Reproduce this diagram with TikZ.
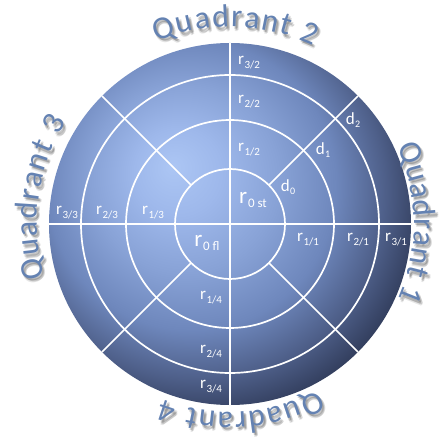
\documentclass[tikz,border=0pt]{standalone}
\usepackage{fontspec}
\setmainfont{Carlito}
\usetikzlibrary{decorations.text}
\definecolor{qcol}{RGB}{100,130,178}
\definecolor{shcol}{RGB}{45,45,45}
\definecolor{sc0}{RGB}{172,198,244}
\definecolor{sc1}{RGB}{158,184,235}
\definecolor{sc2}{RGB}{136,162,214}
\definecolor{sc3}{RGB}{110,135,188}
\definecolor{sc4}{RGB}{78,95,137}
\definecolor{sc5}{RGB}{42,52,80}
\definecolor{sc6}{RGB}{20,25,40}
\pgfdeclareradialshading{sphere}{\pgfpoint{-8bp}{8bp}}{%
 color(0bp)=(sc0); color(6bp)=(sc1); color(13bp)=(sc2); color(20bp)=(sc3); color(26bp)=(sc4); color(32bp)=(sc5); color(40bp)=(sc6); color(60bp)=(sc6)}
\newcommand\qfont{\fontsize{32}{32}\selectfont}
\newcommand\rsub[1]{r\kern0.6pt\raisebox{-3.8pt}{\fontsize{11}{11}\selectfont #1}}
\newcommand\rbig[1]{{\fontsize{23}{23}\selectfont r}\kern0.8pt\raisebox{-4pt}{\fontsize{13}{13}\selectfont #1}}
\newcommand\dsub[1]{d\kern0.4pt\raisebox{-3pt}{\fontsize{10}{10}\selectfont #1}}
\newcommand\qarc[4]{%
 \foreach \dx/\dy/\op in {1.5/-2.5/0.16,3/-3.5/0.16,2.5/-2/0.14,2/-4.5/0.12}{%
  \begin{scope}[opacity=\op,shift={(\dx,\dy)}]
  \path[decorate,decoration={text along path,text align=fit to path,text={|\qfont\color{shcol}|#4}}]
   (#1:#3) arc[start angle=#1,end angle=#2,radius=#3];
  \end{scope}}
 \path[decorate,decoration={text along path,text align=fit to path,text={|\qfont\color{qcol}|#4}}]
   (#1:#3) arc[start angle=#1,end angle=#2,radius=#3];
}
\begin{document}
\begin{tikzpicture}[x=1pt,y=1pt,
  grid/.style={white,line width=1.7pt},
  lab/.style={text=white,inner sep=0pt,font=\fontsize{17}{17}\selectfont}]
\useasboundingbox (-230,-219) rectangle (213,224);
\shade[shading=sphere] (0,0) circle[radius=181];
\draw[grid] (0,0) circle[radius=55] (0,0) circle[radius=104] (0,0) circle[radius=149];
\draw[grid] (0,181) -- (0,-181) (-181,0) -- (181,0);
\foreach \a in {45,135,225,315} \draw[grid] (\a:55) -- (\a:181);
% quadrant 2 labels
\node[lab] (r32) at (19,161) {\rsub{3/2}};
\node[lab] (r22) at (19,122) {\rsub{2/2}};
\node[lab] (r12) at (19,74) {\rsub{1/2}};
\node[lab] (r0st) at (23,24) {\rbig{0 st}};
\node[lab] (d0) at (58,37) {\dsub{0}};
\node[lab] (d1) at (93,74) {\dsub{1}};
\node[lab] (d2) at (123,104) {\dsub{2}};
% quadrant 1
\node[lab] (r11) at (78,-16) {\rsub{1/1}};
\node[lab] (r21) at (128,-16) {\rsub{2/1}};
\node[lab] (r31) at (166,-16) {\rsub{3/1}};
% quadrant 3
\node[lab] (r33) at (-163,11) {\rsub{3/3}};
\node[lab] (r23) at (-123,11) {\rsub{2/3}};
\node[lab] (r13) at (-77,11) {\rsub{1/3}};
% quadrant 4
\node[lab] (r0fl) at (-23,-19) {\rbig{0 fl}};
\node[lab] (r14) at (-19,-74) {\rsub{1/4}};
\node[lab] (r24) at (-19,-128) {\rsub{2/4}};
\node[lab] (r34) at (-19,-163) {\rsub{3/4}};
% curved titles
\qarc{112}{65}{197}{Quadrant 2}
\qarc{25}{-24}{184}{Quadrant 1}
\qarc{196}{148}{193}{Quadrant 3}
\qarc{298}{249}{188}{Quadrant 4}
\end{tikzpicture}
\end{document}
